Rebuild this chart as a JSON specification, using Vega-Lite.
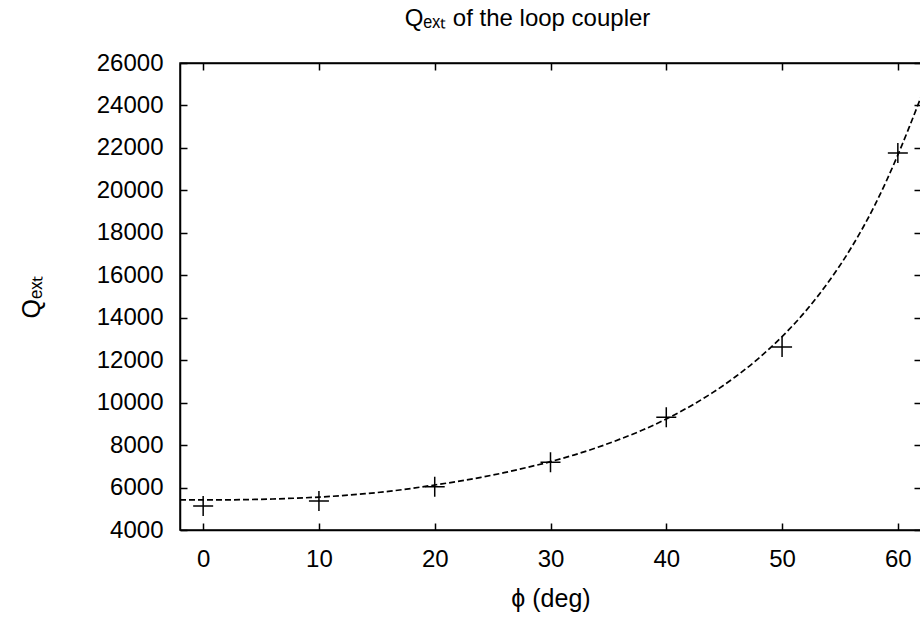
{
  "$schema": "https://vega.github.io/schema/vega-lite/v6.json",
  "width": 741,
  "height": 467,
  "autosize": {"type": "none"},
  "padding": {"left": 180, "top": 63, "right": 0, "bottom": 92},
  "background": "white",
  "config": {
    "font": "Liberation Sans",
    "view": {"stroke": "black", "strokeWidth": 1.5},
    "axis": {
      "grid": false,
      "domainColor": "black",
      "domainWidth": 1.5,
      "tickColor": "black",
      "tickWidth": 1.5,
      "tickSize": -7,
      "labelFont": "Liberation Sans",
      "labelFontSize": 24,
      "labelColor": "black",
      "titleFont": "Liberation Sans",
      "titleFontSize": 25,
      "titleFontWeight": "normal",
      "titleColor": "black"
    }
  },
  "title": {
    "text": "Qₑₓₜ of the loop coupler",
    "font": "Liberation Sans",
    "fontSize": 24,
    "fontWeight": "normal",
    "color": "black",
    "anchor": "middle",
    "dx": -23,
    "offset": 20
  },
  "datasets": {
    "measured": [
      {"phi": 0, "Qext": 5130},
      {"phi": 10, "Qext": 5370},
      {"phi": 20, "Qext": 6040},
      {"phi": 30, "Qext": 7190},
      {"phi": 40, "Qext": 9310},
      {"phi": 50, "Qext": 12620},
      {"phi": 60, "Qext": 21760}
    ],
    "fit": [
      {"phi": -2, "Qext": 5415},
      {"phi": 0, "Qext": 5415},
      {"phi": 2, "Qext": 5420},
      {"phi": 4, "Qext": 5435},
      {"phi": 6, "Qext": 5460},
      {"phi": 8, "Qext": 5500},
      {"phi": 10, "Qext": 5550},
      {"phi": 12, "Qext": 5620},
      {"phi": 14, "Qext": 5710},
      {"phi": 16, "Qext": 5820},
      {"phi": 18, "Qext": 5960},
      {"phi": 20, "Qext": 6120},
      {"phi": 22, "Qext": 6290},
      {"phi": 24, "Qext": 6480},
      {"phi": 26, "Qext": 6700},
      {"phi": 28, "Qext": 6950},
      {"phi": 30, "Qext": 7220},
      {"phi": 32, "Qext": 7530},
      {"phi": 34, "Qext": 7880},
      {"phi": 36, "Qext": 8280},
      {"phi": 38, "Qext": 8720},
      {"phi": 40, "Qext": 9230},
      {"phi": 42, "Qext": 9810},
      {"phi": 44, "Qext": 10470},
      {"phi": 46, "Qext": 11230},
      {"phi": 48, "Qext": 12100},
      {"phi": 50, "Qext": 13110},
      {"phi": 52, "Qext": 14290},
      {"phi": 54, "Qext": 15680},
      {"phi": 56, "Qext": 17320},
      {"phi": 58, "Qext": 19290},
      {"phi": 60, "Qext": 21670},
      {"phi": 61, "Qext": 23000},
      {"phi": 62, "Qext": 24400}
    ]
  },
  "layer": [
    {
      "data": {"name": "fit"},
      "mark": {"type": "line", "stroke": "black", "strokeWidth": 1.7, "strokeDash": [6, 3], "interpolate": "monotone", "clip": true},
      "encoding": {
        "x": {"field": "phi", "type": "quantitative", "scale": {"domain": [-2, 62], "nice": false, "zero": false},
              "axis": {"orient": "top", "labels": false, "title": null, "values": [0, 10, 20, 30, 40, 50, 60]}},
        "y": {"field": "Qext", "type": "quantitative", "scale": {"domain": [4000, 26000], "nice": false, "zero": false},
              "axis": {"orient": "right", "labels": false, "title": null, "values": [4000, 6000, 8000, 10000, 12000, 14000, 16000, 18000, 20000, 22000, 24000, 26000]}}
      }
    },
    {
      "data": {"name": "measured"},
      "mark": {"type": "point", "shape": "M-1,0H1M0,-1V1", "size": 400, "stroke": "black", "strokeWidth": 1.5, "filled": false, "opacity": 1},
      "encoding": {
        "x": {"field": "phi", "type": "quantitative", "scale": {"domain": [-2, 62], "nice": false, "zero": false},
              "axis": {"orient": "bottom", "title": "ϕ (deg)", "values": [0, 10, 20, 30, 40, 50, 60], "labelPadding": 24, "titlePadding": 15}},
        "y": {"field": "Qext", "type": "quantitative", "scale": {"domain": [4000, 26000], "nice": false, "zero": false},
              "axis": {"orient": "left", "title": "Qₑₓₜ", "format": "d", "values": [4000, 6000, 8000, 10000, 12000, 14000, 16000, 18000, 20000, 22000, 24000, 26000], "labelPadding": 24, "titlePadding": 52}}
      }
    }
  ],
  "resolve": {"axis": {"x": "independent", "y": "independent"}}
}
